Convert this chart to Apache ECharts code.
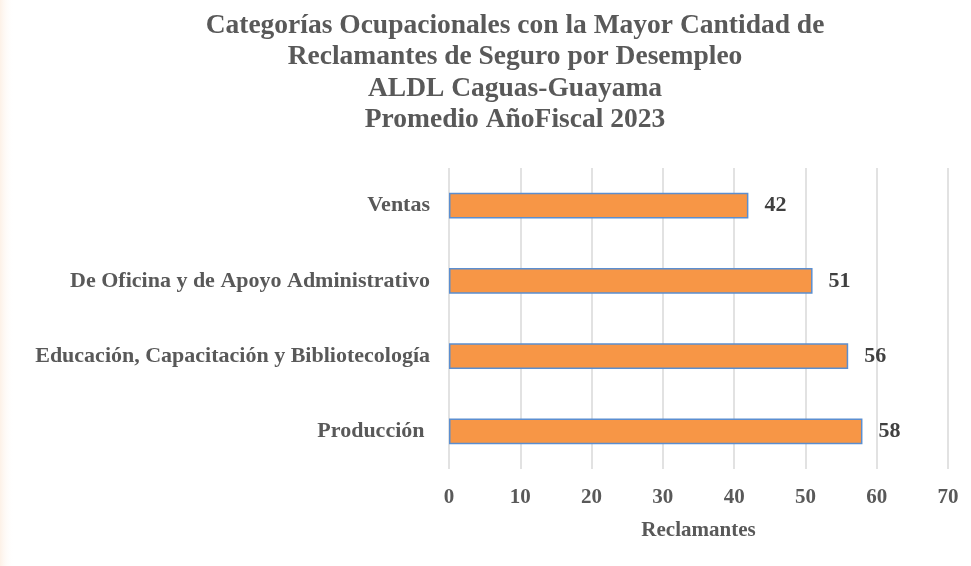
<!DOCTYPE html>
<html><head><meta charset="utf-8">
<script src="https://cdn.jsdelivr.net/npm/echarts@6/dist/echarts.min.js"></script>
<style>html,body{margin:0;padding:0;background:#fff}#c{width:971px;height:566px}</style>
</head><body><div id="c"></div>
<script>
var categories = ['Producción ', 'Educación, Capacitación y Bibliotecología', 'De Oficina y de Apoyo Administrativo', 'Ventas'];
var values = [58, 56, 51, 42];
var xTicks = [0, 10, 20, 30, 40, 50, 60, 70];

var chart = echarts.init(document.getElementById('c'));
var serif = '"Liberation Serif", "Times New Roman", serif';
chart.setOption({
  backgroundColor: '#fff',
  graphic: [{
    type: 'rect', left: 0, top: 0, z: -10,
    shape: {width: 14, height: 566},
    style: {fill: {type: 'linear', x: 0, y: 0, x2: 1, y2: 0,
      colorStops: [{offset: 0, color: 'rgba(247,200,160,0.25)'}, {offset: 1, color: 'rgba(255,255,255,0)'}]}}
  }],
  title: {
    text: 'Categorías Ocupacionales con la Mayor Cantidad de\nReclamantes de Seguro por Desempleo\nALDL Caguas-Guayama\nPromedio AñoFiscal 2023',
    left: 510, top: 5, textAlign: 'center',
    textStyle: {fontFamily: serif, fontWeight: 'bold', fontSize: 27.5, color: '#595959', lineHeight: 31.5}
  },
  grid: {left: 449, right: 23, top: 168, height: 301, containLabel: false},
  xAxis: {
    type: 'value', min: 0, max: 70, interval: 10,
    name: 'Reclamantes', nameLocation: 'middle', nameGap: 51,
    nameTextStyle: {fontFamily: serif, fontWeight: 'bold', fontSize: 21, color: '#595959'},
    axisLine: {show: false}, axisTick: {show: false},
    axisLabel: {fontFamily: serif, fontWeight: 'bold', fontSize: 21, color: '#595959', margin: 18,
      formatter: function (v) { return xTicks.indexOf(v) >= 0 ? String(v) : ''; }},
    splitLine: {show: true, lineStyle: {color: '#d9d9d9', width: 1.5}}
  },
  yAxis: {
    type: 'category', data: categories,
    axisLine: {show: false}, axisTick: {show: false},
    axisLabel: {fontFamily: serif, fontWeight: 'bold', fontSize: 22, color: '#595959', margin: 19}
  },
  series: [{
    type: 'bar', data: values, barWidth: '34.5%',
    itemStyle: {color: '#F79646', borderColor: '#5B8ED0', borderWidth: 1.5},
    label: {show: true, position: 'right', distance: 16,
      fontFamily: serif, fontWeight: 'bold', fontSize: 22, color: '#404040'}
  }]
});
</script></body></html>
